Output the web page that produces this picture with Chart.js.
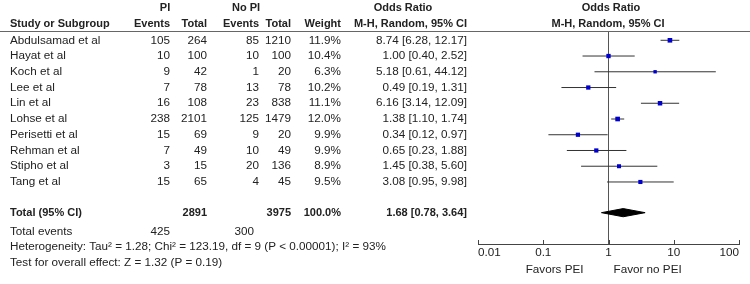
<!DOCTYPE html>
<html><head><meta charset="utf-8">
<script src="https://cdn.jsdelivr.net/npm/chart.js@4.4.1/dist/chart.umd.min.js"></script>
<style>html,body{margin:0;padding:0;background:#fff}canvas{display:block}</style>
</head><body>
<canvas id="c" width="750" height="284"></canvas>
<script>
const studies = ['Abdulsamad et al','Hayat et al','Koch et al','Lee et al','Lin et al','Lohse et al','Perisetti et al','Rehman et al','Stipho et al','Tang et al'];
const piEvents = [105,10,9,7,16,238,15,7,3,15];
const piTotal = [264,100,42,78,108,2101,69,49,15,65];
const noPiEvents = [85,10,1,13,23,125,9,10,20,4];
const noPiTotal = [1210,100,20,78,838,1479,20,49,136,45];
const weights = [11.9,10.4,6.3,10.2,11.1,12.0,9.9,9.9,8.9,9.5];
const oddsRatio = [8.74,1.00,5.18,0.49,6.16,1.38,0.34,0.65,1.45,3.08];
const ciLow = [6.28,0.40,0.61,0.19,3.14,1.10,0.12,0.23,0.38,0.95];
const ciHigh = [12.17,2.52,44.12,1.31,12.09,1.74,0.97,1.88,5.60,9.98];
const pooled = [1.68, 0.78, 3.64];
const totalParticipants = [2891, 3975];
const totalEvents = [425, 300];
const totalWeight = 100.0;
const axisTicks = [0.01, 0.1, 1, 10, 100];
const heterogeneityText = 'Heterogeneity: Tau\u00B2 = 1.28; Chi\u00B2 = 123.19, df = 9 (P < 0.00001); I\u00B2 = 93%';
const overallEffectText = 'Test for overall effect: Z = 1.32 (P = 0.19)';
const favorLabels = ['Favors PEI', 'Favor no PEI'];

// row positions in y-scale units (layout)
const Y_MIN = -0.59, Y_MAX = 12.94;
const ROW_TOTAL = 10.95, ROW_EVENTS = 12.18, ROW_HET = 13.13, ROW_TEST = 14.15;
const ROW_H1 = -2.05, ROW_H2 = -1.04;
const DIAMOND_H = 0.26;

const FONT = '"Liberation Sans", Arial, sans-serif';
const REG = '11.7px ' + FONT;
const BOLD = 'bold 11px ' + FONT;
const TXT = '#222';

const f2 = v => v.toFixed(2);
const orText = (o,l,h) => f2(o) + ' [' + f2(l) + ', ' + f2(h) + ']';

const datasets = [];
datasets.push({
  label: 'studies',
  data: oddsRatio.map((v,i)=>({x:v, y:i})),
  pointStyle: 'rect',
  pointRadius: weights.map(w => 0.95*Math.sqrt(w)),
  backgroundColor: '#0000cc',
  borderColor: '#0000cc',
  borderWidth: 0,
  showLine: false
});
datasets.push({
  label: 'pooled',
  data: [
    {x:pooled[1], y:ROW_TOTAL},
    {x:pooled[0], y:ROW_TOTAL-DIAMOND_H},
    {x:pooled[2], y:ROW_TOTAL},
    {x:pooled[0], y:ROW_TOTAL+DIAMOND_H},
    {x:pooled[1], y:ROW_TOTAL}
  ],
  showLine: true,
  fill: 'shape',
  backgroundColor: '#000',
  borderColor: '#000',
  borderWidth: 1,
  pointRadius: 0,
  tension: 0
});
studies.forEach((s,i)=>{
  datasets.push({
    label: 'ci'+i,
    data: [{x:ciLow[i], y:i},{x:ciHigh[i], y:i}],
    showLine: true,
    borderColor: '#333',
    borderWidth: 1,
    pointRadius: 0
  });
});
datasets.push({
  label: 'null',
  data: [{x:1, y:Y_MIN},{x:1, y:Y_MAX}],
  showLine: true,
  borderColor: '#555',
  borderWidth: 1,
  pointRadius: 0
});

const tablePlugin = {
  id: 'table',
  afterDraw(chart) {
    const ctx = chart.ctx;
    const ys = chart.scales.y, xs = chart.scales.x;
    const ca = chart.chartArea;
    const Y = v => ys.getPixelForValue(v);
    ctx.save();
    ctx.textBaseline = 'middle';
    const t = (s, x, y, align, font) => {
      ctx.font = font || REG; ctx.fillStyle = TXT; ctx.textAlign = align || 'left';
      ctx.fillText(s, x, y);
    };
    // header line
    ctx.strokeStyle = '#666'; ctx.lineWidth = 1;
    ctx.beginPath(); ctx.moveTo(0, Math.round(ca.top)+0.5); ctx.lineTo(750, Math.round(ca.top)+0.5); ctx.stroke();
    // headers
    const h1 = Y(ROW_H1), h2 = Y(ROW_H2);
    t('PI', 165, h1, 'center', BOLD);
    t('No PI', 246, h1, 'center', BOLD);
    t('Odds Ratio', 403, h1, 'center', BOLD);
    t('Odds Ratio', 611, h1, 'center', BOLD);
    t('Study or Subgroup', 10, h2, 'left', BOLD);
    t('Events', 170, h2, 'right', BOLD);
    t('Total', 207, h2, 'right', BOLD);
    t('Events', 259, h2, 'right', BOLD);
    t('Total', 291, h2, 'right', BOLD);
    t('Weight', 341, h2, 'right', BOLD);
    t('M-H, Random, 95% CI', 467, h2, 'right', BOLD);
    t('M-H, Random, 95% CI', 608, h2, 'center', BOLD);
    // rows
    studies.forEach((s,i)=>{
      const y = Y(i);
      t(s, 10, y);
      t(String(piEvents[i]), 170, y, 'right');
      t(String(piTotal[i]), 207, y, 'right');
      t(String(noPiEvents[i]), 259, y, 'right');
      t(String(noPiTotal[i]), 291, y, 'right');
      t(weights[i].toFixed(1)+'%', 341, y, 'right');
      t(orText(oddsRatio[i], ciLow[i], ciHigh[i]), 467, y, 'right');
    });
    // total
    const yt = Y(ROW_TOTAL);
    t('Total (95% CI)', 10, yt, 'left', BOLD);
    t(String(totalParticipants[0]), 207, yt, 'right', BOLD);
    t(String(totalParticipants[1]), 291, yt, 'right', BOLD);
    t(totalWeight.toFixed(1)+'%', 341, yt, 'right', BOLD);
    t(orText(pooled[0], pooled[1], pooled[2]), 467, yt, 'right', BOLD);
    const ye = Y(ROW_EVENTS);
    t('Total events', 10, ye);
    t(String(totalEvents[0]), 170, ye, 'right');
    t(String(totalEvents[1]), 254, ye, 'right');
    t(heterogeneityText, 10, Y(ROW_HET));
    t(overallEffectText, 10, Y(ROW_TEST));
    // up ticks on axis
    ctx.strokeStyle = '#444'; ctx.lineWidth = 1;
    const by = Math.round(ca.bottom);
    axisTicks.forEach(v=>{
      const x = Math.round(xs.getPixelForValue(v)) + 0.5;
      ctx.beginPath(); ctx.moveTo(x, by - 4); ctx.lineTo(x, by + 0.5); ctx.stroke();
    });
    // favors labels
    const x1 = xs.getPixelForValue(1);
    t(favorLabels[0], x1 - 25, 270, 'right');
    t(favorLabels[1], x1 + 5, 270, 'left');
    ctx.restore();
  }
};

new Chart(document.getElementById('c'), {
  type: 'scatter',
  data: { datasets },
  options: {
    responsive: false,
    animation: false,
    devicePixelRatio: 1,
    layout: { padding: { left: 478, right: 11, top: 31, bottom: 14 } },
    plugins: { legend: { display: false }, tooltip: { enabled: false } },
    elements: { line: { tension: 0 } },
    scales: {
      x: {
        type: 'logarithmic',
        min: 0.01, max: 100,
        afterBuildTicks: s => { s.ticks = axisTicks.map(v => ({ value: v })); },
        afterFit: s => { s.height = 26; },
        ticks: {
          align: 'inner', autoSkip: false, maxRotation: 0, padding: 2,
          color: TXT, font: { family: FONT, size: 11.7 },
          callback: v => String(v)
        },
        grid: { display: false, drawTicks: false },
        border: { display: true, color: '#444', width: 1 }
      },
      y: {
        type: 'linear', display: false, reverse: true,
        min: Y_MIN, max: Y_MAX
      }
    }
  },
  plugins: [tablePlugin]
});
</script>
</body></html>
